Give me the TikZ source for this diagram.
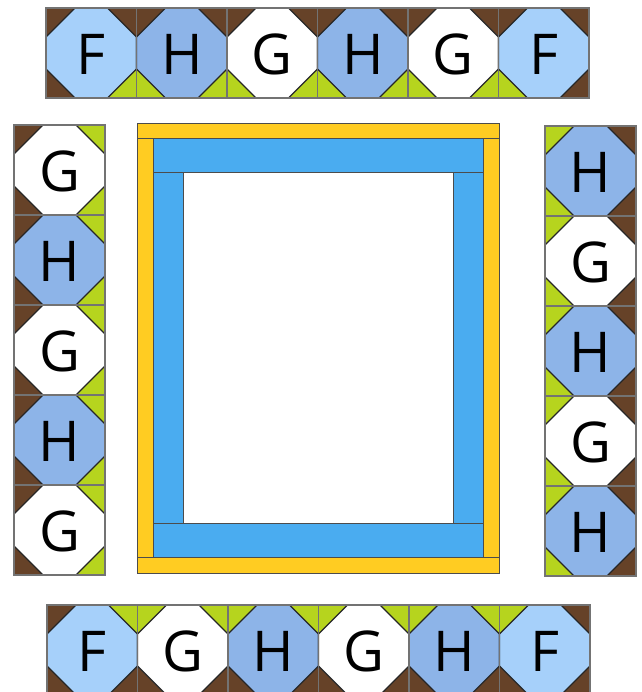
\documentclass[tikz,border=0pt]{standalone}
\usepackage{fontspec}
\setmainfont{Open Sans}
\definecolor{quiltF}{RGB}{166, 208, 250}
\definecolor{quiltH}{RGB}{141, 180, 232}
\definecolor{quiltG}{RGB}{255, 255, 255}
\definecolor{quiltbrown}{RGB}{102, 66, 40}
\definecolor{quiltgreen}{RGB}{182, 212, 30}
\definecolor{frameyellow}{RGB}{255, 204, 34}
\definecolor{frameblue}{RGB}{74, 172, 240}
\definecolor{edgegray}{RGB}{115, 115, 115}

\begin{document}
\begin{tikzpicture}[x=0.03cm, y=-0.03cm,
  letter/.style={font=\fontsize{48}{48}\selectfont, inner sep=0pt},
  octedge/.style={draw=black!85, line width=1pt},
  blockedge/.style={draw=edgegray, line width=0.9pt},
  strip/.style={draw=black!70, line width=0.8pt}]
\useasboundingbox (0,0) rectangle (642,692);
\clip (0,0) rectangle (642,692);
% octagon blocks: x/y/width/letter/fill/corners tl,tr,br,bl/name
\foreach \px/\py/\w/\name/\col/\ctl/\ctr/\cbr/\cbl/\id in {
  46/8/90.5/F/quiltF/quiltbrown/quiltbrown/quiltgreen/quiltbrown/t1,
  136.5/8/90.5/H/quiltH/quiltbrown/quiltbrown/quiltgreen/quiltgreen/t2,
  227/8/90.5/G/quiltG/quiltbrown/quiltbrown/quiltgreen/quiltgreen/t3,
  317.5/8/90.5/H/quiltH/quiltbrown/quiltbrown/quiltgreen/quiltgreen/t4,
  408/8/90.5/G/quiltG/quiltbrown/quiltbrown/quiltgreen/quiltgreen/t5,
  498.5/8/90.5/F/quiltF/quiltbrown/quiltbrown/quiltbrown/quiltgreen/t6,
  14/125/91/G/quiltG/quiltbrown/quiltgreen/quiltgreen/quiltbrown/l1,
  14/215/91/H/quiltH/quiltbrown/quiltgreen/quiltgreen/quiltbrown/l2,
  14/305/91/G/quiltG/quiltbrown/quiltgreen/quiltgreen/quiltbrown/l3,
  14/395/91/H/quiltH/quiltbrown/quiltgreen/quiltgreen/quiltbrown/l4,
  14/485/91/G/quiltG/quiltbrown/quiltgreen/quiltgreen/quiltbrown/l5,
  545/126/91/H/quiltH/quiltgreen/quiltbrown/quiltbrown/quiltgreen/r1,
  545/216/91/G/quiltG/quiltgreen/quiltbrown/quiltbrown/quiltgreen/r2,
  545/306/91/H/quiltH/quiltgreen/quiltbrown/quiltbrown/quiltgreen/r3,
  545/396/91/G/quiltG/quiltgreen/quiltbrown/quiltbrown/quiltgreen/r4,
  545/486/91/H/quiltH/quiltgreen/quiltbrown/quiltbrown/quiltgreen/r5,
  47/605/90.5/F/quiltF/quiltbrown/quiltgreen/quiltbrown/quiltbrown/b1,
  137.5/605/90.5/G/quiltG/quiltgreen/quiltgreen/quiltbrown/quiltbrown/b2,
  228/605/90.5/H/quiltH/quiltgreen/quiltgreen/quiltbrown/quiltbrown/b3,
  318.5/605/90.5/G/quiltG/quiltgreen/quiltgreen/quiltbrown/quiltbrown/b4,
  409/605/90.5/H/quiltH/quiltgreen/quiltgreen/quiltbrown/quiltbrown/b5,
  499.5/605/90.5/F/quiltF/quiltgreen/quiltbrown/quiltbrown/quiltbrown/b6} {
  \fill[\ctl] (\px,\py) -- ++(29,0) -- ++(-29,29) -- cycle;
  \fill[\ctr] (\px+\w,\py) -- ++(-29,0) -- ++(29,29) -- cycle;
  \fill[\cbr] (\px+\w,\py+90) -- ++(-29,0) -- ++(29,-29) -- cycle;
  \fill[\cbl] (\px,\py+90) -- ++(29,0) -- ++(-29,-29) -- cycle;
  \filldraw[octedge, fill=\col] (\px+29,\py) -- (\px+\w-29,\py) -- (\px+\w,\py+29)
    -- (\px+\w,\py+61) -- (\px+\w-29,\py+90) -- (\px+29,\py+90)
    -- (\px,\py+61) -- (\px,\py+29) -- cycle;
  \draw[blockedge] (\px,\py) rectangle ++(\w,90);
  \node[letter] (\id) at (\px+\w/2,\py+46) {\name};
}
% centre frame
\filldraw[strip, fill=frameyellow] (137,123) rectangle (499,138);
\filldraw[strip, fill=frameyellow] (137,557) rectangle (499,573);
\filldraw[strip, fill=frameyellow] (137,138) rectangle (153,557);
\filldraw[strip, fill=frameyellow] (483,138) rectangle (499,557);
\filldraw[strip, fill=frameblue] (153,138) rectangle (483,172);
\filldraw[strip, fill=frameblue] (153,523) rectangle (483,557);
\filldraw[strip, fill=frameblue] (153,172) rectangle (183,523);
\filldraw[strip, fill=frameblue] (453,172) rectangle (483,523);
\end{tikzpicture}
\end{document}
